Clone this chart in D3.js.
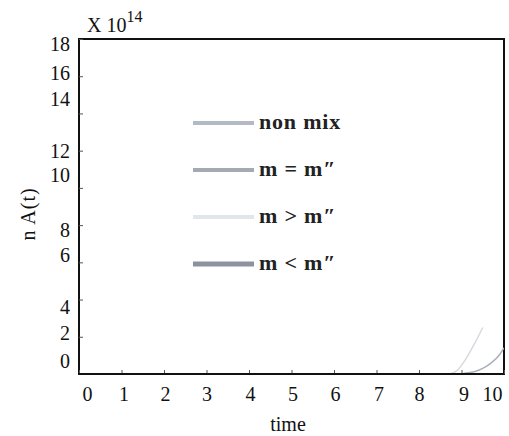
<!DOCTYPE html>
<html>
<head>
<meta charset="utf-8">
<script src="https://cdn.jsdelivr.net/npm/d3@7"></script>
<style>
  html, body { margin: 0; padding: 0; background: #fff; }
  svg { display: block; font-family: "Liberation Serif", "Times New Roman", serif; }
</style>
</head>
<body>
<svg id="chart" width="509" height="436"></svg>
<script>
// Time samples (denser near the end where the curves take off)
const time = [0, 1, 2, 3, 4, 5, 6, 7, 8, 8.5, 8.7, 8.9, 9.1, 9.3, 9.5, 9.7, 9.9, 10];

// n A(t) in units of 1e14; null where the curve leaves the plotted range
const nonMix   = [0, 0, 0, 0, 0, 0, 0, 0, 0, 0, 0, 0, 0, 0, 0, 0, 0, 0];
const mEqual   = [0, 0, 0, 0, 0, 0, 0, 0, 0, 0, 0, 0, 0, 0, 0, 0, 0, 0];
const mGreater = [0, 0, 0, 0, 0, 0, 0, 0, 0, 0, 0, 0.2, 0.8, 1.6, 2.5, null, null, null];
const mLess    = [0, 0, 0, 0, 0, 0, 0, 0, 0, 0, 0, 0, 0.05, 0.12, 0.3, 0.6, 1.05, 1.4];

const seriesNames = ["non mix", "m = m\u2033", "m > m\u2033", "m < m\u2033"];
const seriesValues = [nonMix, mEqual, mGreater, mLess];

// Axis ticks
const xTicks = [0, 1, 2, 3, 4, 5, 6, 7, 8, 9, 10];
const yTicks = [0, 2, 4, 6, 8, 10, 12, 14, 16, 18];

// Series styling
const colors = ["#b3bac4", "#a5aab2", "#e2e6ec", "#8c929e"];
const curveColors = ["#b3bac4", "#a5aab2", "#d6dbe2", "#aab0ba"];
const legendWidths = [4, 4, 4, 5];

// Per-label offsets (px) of the printed tick numbers relative to their ticks
const yLabelNudge = [-14, -4, 7, -8, 4, -13, 0, -15, -4, 4];
const xLabelNudge = [8, 2, 1, 0, 1, 1, 1, 2, 0, 2, -12];

const svg = d3.select("#chart");
const plot = { left: 79, top: 39, right: 504, bottom: 374 };

const x = d3.scaleLinear().domain([0, 10]).range([plot.left, plot.right]);
const y = d3.scaleLinear().domain([0, 18]).range([plot.bottom, plot.top]);

// Plot frame
svg.append("rect")
  .attr("x", plot.left).attr("y", plot.top)
  .attr("width", plot.right - plot.left).attr("height", plot.bottom - plot.top)
  .attr("fill", "none").attr("stroke", "#111").attr("stroke-width", 2);

// Y axis: inward ticks, numbers placed left of the frame
const yAxis = d3.axisLeft(y).tickValues(yTicks).tickSizeInner(-4).tickSizeOuter(0).tickPadding(10);
const gy = svg.append("g").attr("transform", `translate(${plot.left},0)`).call(yAxis);
gy.select(".domain").remove();
gy.selectAll(".tick line").attr("stroke", "#555").attr("stroke-width", 1);
gy.selectAll(".tick text")
  .attr("font-size", 20).attr("fill", "#111")
  .attr("font-family", "Liberation Serif, serif")
  .attr("x", -9)
  .attr("dy", (d, i) => (yLabelNudge[i] + 7) + "px");

// X axis
const xAxis = d3.axisBottom(x).tickValues(xTicks).tickSizeInner(-4).tickSizeOuter(0).tickPadding(8);
const gx = svg.append("g").attr("transform", `translate(0,${plot.bottom})`).call(xAxis);
gx.select(".domain").remove();
gx.selectAll(".tick line").attr("stroke", "#555").attr("stroke-width", 1);
gx.selectAll(".tick text")
  .attr("font-size", 20).attr("fill", "#111")
  .attr("font-family", "Liberation Serif, serif")
  .attr("dx", (d, i) => xLabelNudge[i] + "px")
  .attr("y", 8).attr("dy", "0.95em");

// Exponent marker
const expo = svg.append("text").attr("x", 87).attr("y", 32)
  .attr("font-size", 20).attr("fill", "#111");
expo.append("tspan").text("X 10");
expo.append("tspan").attr("dy", -10).attr("font-size", 16).text("14");

// Axis titles
svg.append("text").attr("x", 288).attr("y", 431)
  .attr("text-anchor", "middle").attr("font-size", 20).attr("fill", "#111")
  .text("time");
svg.append("text")
  .attr("transform", "translate(35,214) rotate(-90)")
  .attr("text-anchor", "middle").attr("font-size", 20).attr("letter-spacing", 1)
  .attr("fill", "#111")
  .text("n A(t)");

// Curves
const line = d3.line()
  .defined(d => d[1] !== null)
  .x(d => x(d[0]))
  .y(d => y(d[1]))
  .curve(d3.curveMonotoneX);

svg.append("defs").append("clipPath").attr("id", "clip")
  .append("rect").attr("x", plot.left).attr("y", plot.top)
  .attr("width", plot.right - plot.left).attr("height", plot.bottom - plot.top);

const curves = svg.append("g").attr("clip-path", "url(#clip)");
seriesValues.forEach((vals, i) => {
  curves.append("path")
    .datum(time.map((t, k) => [t, vals[k]]))
    .attr("d", line)
    .attr("fill", "none")
    .attr("stroke", curveColors[i])
    .attr("stroke-width", 1.5);
});

// Redraw the bottom edge over the flat curves
svg.append("line")
  .attr("x1", plot.left).attr("x2", plot.right)
  .attr("y1", plot.bottom).attr("y2", plot.bottom)
  .attr("stroke", "#111").attr("stroke-width", 2);

// Legend
const legendY = [123, 170, 217, 264];
const legend = svg.append("g");
seriesNames.forEach((name, i) => {
  legend.append("line")
    .attr("x1", 193).attr("x2", 254)
    .attr("y1", legendY[i]).attr("y2", legendY[i])
    .attr("stroke", colors[i]).attr("stroke-width", legendWidths[i]);
  legend.append("text")
    .attr("x", 259).attr("y", legendY[i] + 6)
    .attr("font-size", 22).attr("font-weight", "bold")
    .attr("letter-spacing", 0.8).attr("fill", "#222")
    .text(name);
});
</script>
</body>
</html>
